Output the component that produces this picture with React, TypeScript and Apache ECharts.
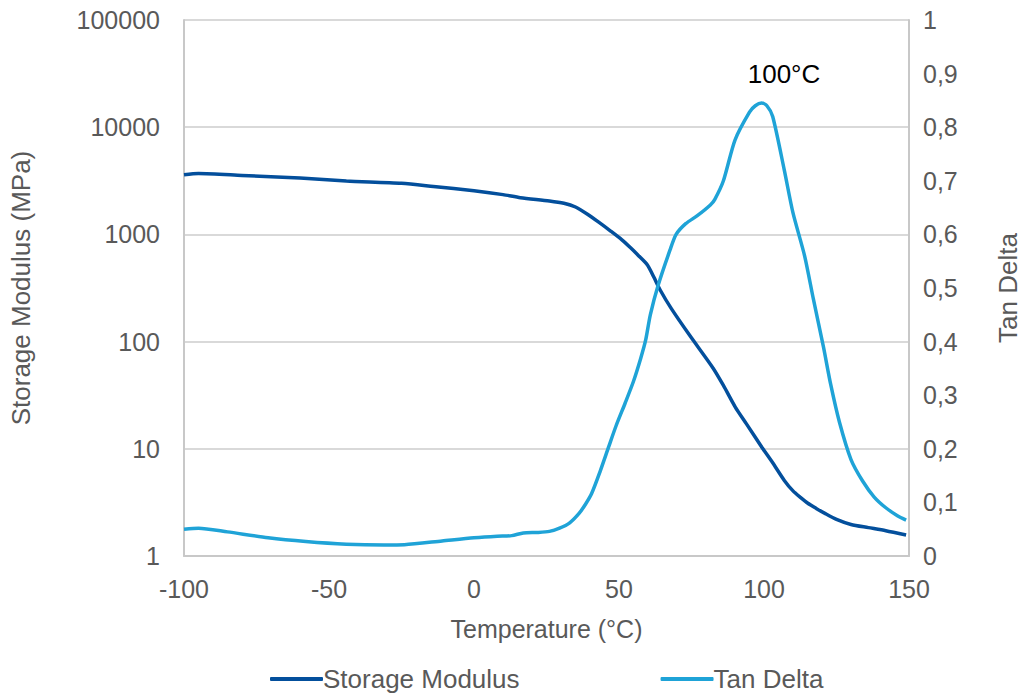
import React, { useEffect, useRef } from "react";
import * as echarts from "echarts";

const modulusTemp = [-100, -95, -80, -60, -44, -25, -14, 0, 10, 16, 26, 31, 35, 39, 43, 47, 51, 54, 56.5, 59.8, 62, 64.2, 68, 74.3, 82.4, 86, 90.1, 94, 99.2, 103, 107, 110, 112.7, 115, 118, 121, 125, 130, 136, 142, 149];
const modulusValues = [3600, 3700, 3550, 3350, 3150, 3000, 2800, 2550, 2350, 2200, 2050, 1950, 1800, 1550, 1300, 1080, 890, 750, 643, 519, 400, 303, 204, 115, 56.8, 39, 24.5, 17, 10.4, 7.4, 5.07, 4.05, 3.5, 3.12, 2.78, 2.5, 2.2, 1.97, 1.84, 1.72, 1.57];

const tanTemp = [-100, -95, -85, -71, -58, -44, -31, -24, -11, 0, 8, 13, 17, 22, 26, 29.5, 33, 36.3, 38.5, 40.6, 43.5, 46.4, 49, 52.1, 55, 57.5, 59.2, 60.8, 63.5, 67.6, 69.7, 73, 77, 81.5, 83, 86, 90, 95, 97, 99.2, 101, 103, 107, 110, 114, 117, 120.5, 123, 126, 130, 134, 138, 142, 146, 149];
const tanValues = [0.05, 0.052, 0.045, 0.034, 0.027, 0.022, 0.0205, 0.021, 0.028, 0.034, 0.037, 0.038, 0.043, 0.044, 0.046, 0.052, 0.062, 0.08, 0.097, 0.117, 0.158, 0.203, 0.243, 0.285, 0.326, 0.369, 0.403, 0.45, 0.505, 0.571, 0.6, 0.62, 0.635, 0.655, 0.665, 0.7, 0.776, 0.828, 0.84, 0.845, 0.84, 0.82, 0.72, 0.64, 0.56, 0.48, 0.39, 0.32, 0.25, 0.18, 0.14, 0.11, 0.09, 0.075, 0.067];

const xTicks = { min: -100, max: 150, interval: 50 };
const leftTicks = { min: 1, max: 100000 };
const rightTicks = { min: 0, max: 1, interval: 0.1 };

const peakLabel = { text: "100°C", temp: 100, value: 0.845 };

const FONT = "'Liberation Sans', Arial, Helvetica, sans-serif";
const GRAY = "#595959";
const DARK = "#034f9c";
const LIGHT = "#1fa3d7";

export default function App() {
  const ref = useRef<HTMLDivElement>(null);
  useEffect(() => {
    if (!ref.current) return;
    const chart = echarts.init(ref.current, undefined, { renderer: "svg", width: 1029, height: 696 });
    const modData = modulusTemp.map((t, i) => [t, modulusValues[i]]);
    const tanData = tanTemp.map((t, i) => [t, tanValues[i]]);
    chart.setOption({
      animation: false,
      textStyle: { fontFamily: FONT },
      grid: { left: 175, width: 743, top: 20, height: 536 },
      legend: {
        top: 661,
        left: 265,
        itemGap: 141,
        itemWidth: 53,
        itemHeight: 4,
        icon: "roundRect",
        textStyle: { fontSize: 26, color: GRAY, fontFamily: FONT, padding: [0, 0, 0, -5] },
        data: ["Storage Modulus", "Tan Delta"],
      },
      xAxis: {
        type: "value",
        min: xTicks.min,
        max: xTicks.max,
        interval: xTicks.interval,
        name: "Temperature (°C)",
        nameLocation: "middle",
        nameGap: 60,
        nameTextStyle: { fontSize: 25, color: GRAY, fontFamily: FONT },
        axisLine: { show: true, lineStyle: { color: "#c8c8c8", width: 2 } },
        axisTick: { show: false },
        axisLabel: { fontSize: 25, color: GRAY, margin: 20, fontFamily: FONT },
        splitLine: { show: false },
      },
      yAxis: [
        {
          type: "log",
          logBase: 10,
          min: leftTicks.min,
          max: leftTicks.max,
          name: "Storage Modulus (MPa)",
          nameLocation: "middle",
          nameGap: 150,
          nameTextStyle: { fontSize: 26, color: GRAY, fontFamily: FONT },
          axisLine: { show: true, onZero: false, lineStyle: { color: "#c8c8c8", width: 2 } },
          axisTick: { show: false },
          axisLabel: {
            fontSize: 25,
            color: GRAY,
            margin: 24,
            fontFamily: FONT,
            formatter: (v: number) => String(Math.round(v)),
          },
          splitLine: { show: true, lineStyle: { color: "#d9d9d9", width: 2 } },
        },
        {
          type: "value",
          min: rightTicks.min,
          max: rightTicks.max,
          interval: rightTicks.interval,
          name: "Tan Delta",
          nameLocation: "middle",
          nameGap: 86,
          nameRotate: 90,
          nameTextStyle: { fontSize: 26, color: GRAY, fontFamily: FONT },
          axisLine: { show: true, onZero: false, lineStyle: { color: "#c8c8c8", width: 2 } },
          axisTick: { show: false },
          axisLabel: {
            fontSize: 25,
            color: GRAY,
            margin: 14,
            fontFamily: FONT,
            formatter: (v: number) => (Math.round(v * 10) / 10).toString().replace(".", ","),
          },
          splitLine: { show: false },
        },
      ],
      series: [
        {
          name: "Storage Modulus",
          type: "line",
          yAxisIndex: 0,
          data: modData,
          smooth: 0.25,
          showSymbol: false,
          symbol: "none",
          lineStyle: { color: DARK, width: 3.5 },
          itemStyle: { color: DARK },
        },
        {
          name: "Tan Delta",
          type: "line",
          yAxisIndex: 1,
          data: tanData,
          smooth: 0.25,
          showSymbol: false,
          symbol: "none",
          lineStyle: { color: LIGHT, width: 3.5 },
          itemStyle: { color: LIGHT },
          markPoint: {
            symbol: "circle",
            symbolSize: 0,
            data: [{ coord: [peakLabel.temp, peakLabel.value] }],
            label: {
              show: true,
              formatter: peakLabel.text,
              position: "top",
              distance: 16,
              offset: [20, 0],
              fontSize: 26,
              color: "#000000",
              fontFamily: FONT,
            },
          },
        },
      ],
    });
    return () => chart.dispose();
  }, []);
  return (
    <div
      ref={ref}
      style={{ position: "fixed", left: 0, top: 0, width: 1029, height: 696, background: "#ffffff" }}
    />
  );
}
